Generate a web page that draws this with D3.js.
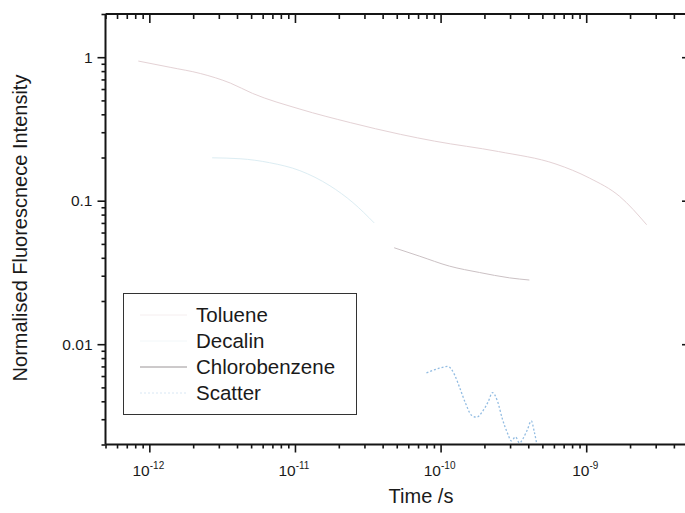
<!DOCTYPE html>
<html><head><meta charset="utf-8">
<script src="https://cdn.jsdelivr.net/npm/d3@7"></script>
<style>body{margin:0;background:#fff}svg{display:block}text{font-family:"Liberation Sans",Arial,sans-serif;fill:#1a1a1a}</style>
</head><body><svg id="c" width="685" height="513"></svg>
<script>
const seriesNames = ["Toluene","Decalin","Chlorobenzene","Scatter"];
const seriesColors = ["#e4d2d5","#dcedf3","#cbc1c4","#92bce2"];
const tolueneT = [8.4e-13,1.39e-12,2.24e-12,3.6e-12,5.1e-12,1.08e-11,2.4e-11,5.3e-11,9.1e-11,2.5e-10,6.2e-10,1.05e-9,1.7e-9,2.6e-9];
const tolueneV = [0.94,0.85,0.77,0.66,0.56,0.435,0.35,0.29,0.26,0.22,0.18,0.144,0.107,0.068];
const decalinT = [2.7e-12,4.2e-12,6.7e-12,1.08e-11,1.74e-11,2.5e-11,3.5e-11];
const decalinV = [0.199,0.196,0.184,0.162,0.127,0.097,0.070];
const chloroT = [4.8e-11,7.2e-11,1.15e-10,1.85e-10,2.97e-10,4.07e-10];
const chloroV = [0.047,0.041,0.035,0.0316,0.029,0.028];
const scatterT = [8.0e-11,9.8e-11,1.12e-10,1.25e-10,1.35e-10,1.48e-10,1.63e-10,1.77e-10,1.94e-10,2.13e-10,2.27e-10,2.46e-10,2.66e-10,2.88e-10,3.06e-10,3.27e-10,3.48e-10,3.7e-10,3.94e-10,4.2e-10,4.4e-10,4.55e-10];
const scatterV = [0.0063,0.0068,0.0070,0.0061,0.0050,0.0039,0.0032,0.0031,0.0034,0.0040,0.0046,0.0040,0.0030,0.0024,0.00212,0.00226,0.00205,0.00222,0.00253,0.00292,0.00245,0.00208];
const xTicks = [1e-12,1e-11,1e-10,1e-9];
const xTickExp = ["-12","-11","-10","-9"];
const yTicks = [1,0.1,0.01];
const yTickLabels = ["1","0.1","0.01"];
const xDomain = [5e-13,5e-9];
const yDomain = [0.002,2];

const svg = d3.select("#c");
const L=105.5, R=688, T=14, B=444.5;
const x = d3.scaleLog().domain(xDomain).range([L,R]);
const y = d3.scaleLog().domain(yDomain).range([B,T]);

function minors(dom){const out=[];for(let e=-14;e<=1;e++){for(let m=2;m<=9;m++){const v=m*Math.pow(10,e);if(v>=dom[0]*0.999&&v<=dom[1]*1.001)out.push(v);}}return out;}
const xMin = minors(xDomain), yMin = minors(yDomain);

const g = svg.append("g");
const data = [[tolueneT,tolueneV],[decalinT,decalinV],[chloroT,chloroV],[scatterT,scatterV]];
const line = d3.line().x(d=>x(d[0])).y(d=>y(d[1])).curve(d3.curveMonotoneX);
data.forEach((s,i)=>{
  const pts = s[0].map((t,j)=>[t,s[1][j]]);
  g.append("path").attr("d",line(pts)).attr("fill","none")
   .attr("stroke",seriesColors[i]).attr("stroke-width",i===3?1.3:1)
   .attr("stroke-dasharray",i===3?"2,2":null);
});

const axC="#151515";
function addAxis(gen,tr){return svg.append("g").attr("transform",tr).call(gen).call(a=>{a.select(".domain").remove();a.selectAll("line").attr("stroke",axC).attr("stroke-width",1.6);});}
addAxis(d3.axisBottom(x).tickValues(xTicks).tickSize(8).tickFormat(""),`translate(0,${B})`);
addAxis(d3.axisBottom(x).tickValues(xMin).tickSize(4).tickFormat(""),`translate(0,${B})`);
addAxis(d3.axisTop(x).tickValues(xTicks).tickSize(-9).tickFormat(""),`translate(0,${T})`);
addAxis(d3.axisTop(x).tickValues(xMin).tickSize(-5).tickFormat(""),`translate(0,${T})`);
addAxis(d3.axisLeft(y).tickValues(yTicks).tickSize(8).tickFormat(""),`translate(${L},0)`);
addAxis(d3.axisLeft(y).tickValues(yMin).tickSize(4).tickFormat(""),`translate(${L},0)`);
addAxis(d3.axisRight(y).tickValues(yTicks).tickSize(-4).tickFormat(""),`translate(${R-2},0)`);
svg.append("line").attr("x1",L).attr("x2",L).attr("y1",T).attr("y2",B).attr("stroke",axC).attr("stroke-width",2);
svg.append("line").attr("x1",L).attr("x2",R).attr("y1",B).attr("y2",B).attr("stroke",axC).attr("stroke-width",2);
svg.append("line").attr("x1",L).attr("x2",R).attr("y1",T).attr("y2",T).attr("stroke",axC).attr("stroke-width",2);

xTicks.forEach((v,i)=>{
  const t=svg.append("text").attr("x",x(v)-1).attr("y",476).attr("text-anchor","middle").attr("font-size",15.5);
  t.append("tspan").text("10");
  t.append("tspan").attr("font-size",10).attr("dy",-7).text(xTickExp[i]);
});
yTicks.forEach((v,i)=>{
  svg.append("text").attr("x",L-13).attr("y",y(v)+5.5).attr("text-anchor","end").attr("font-size",15.5).text(yTickLabels[i]);
});
svg.append("text").attr("x",421).attr("y",503).attr("text-anchor","middle").attr("font-size",20).text("Time /s");
svg.append("text").attr("transform","translate(27,228) rotate(-90)").attr("text-anchor","middle").attr("font-size",20).text("Normalised Fluorescnece Intensity");

svg.append("rect").attr("x",123.5).attr("y",293.5).attr("width",233).attr("height",121).attr("fill","#fff").attr("stroke","#333").attr("stroke-width",1);
seriesNames.forEach((n,i)=>{
  const by=322+i*26;
  svg.append("line").attr("x1",140).attr("x2",187).attr("y1",by-7).attr("y2",by-7)
    .attr("stroke",i===2?"#9a9496":seriesColors[i]).attr("stroke-width",1)
    .attr("stroke-dasharray",i===3?"2,2":null).attr("opacity",i===2?1:0.35);
  svg.append("text").attr("x",196).attr("y",by).attr("font-size",20.5).text(n);
});
</script></body></html>
